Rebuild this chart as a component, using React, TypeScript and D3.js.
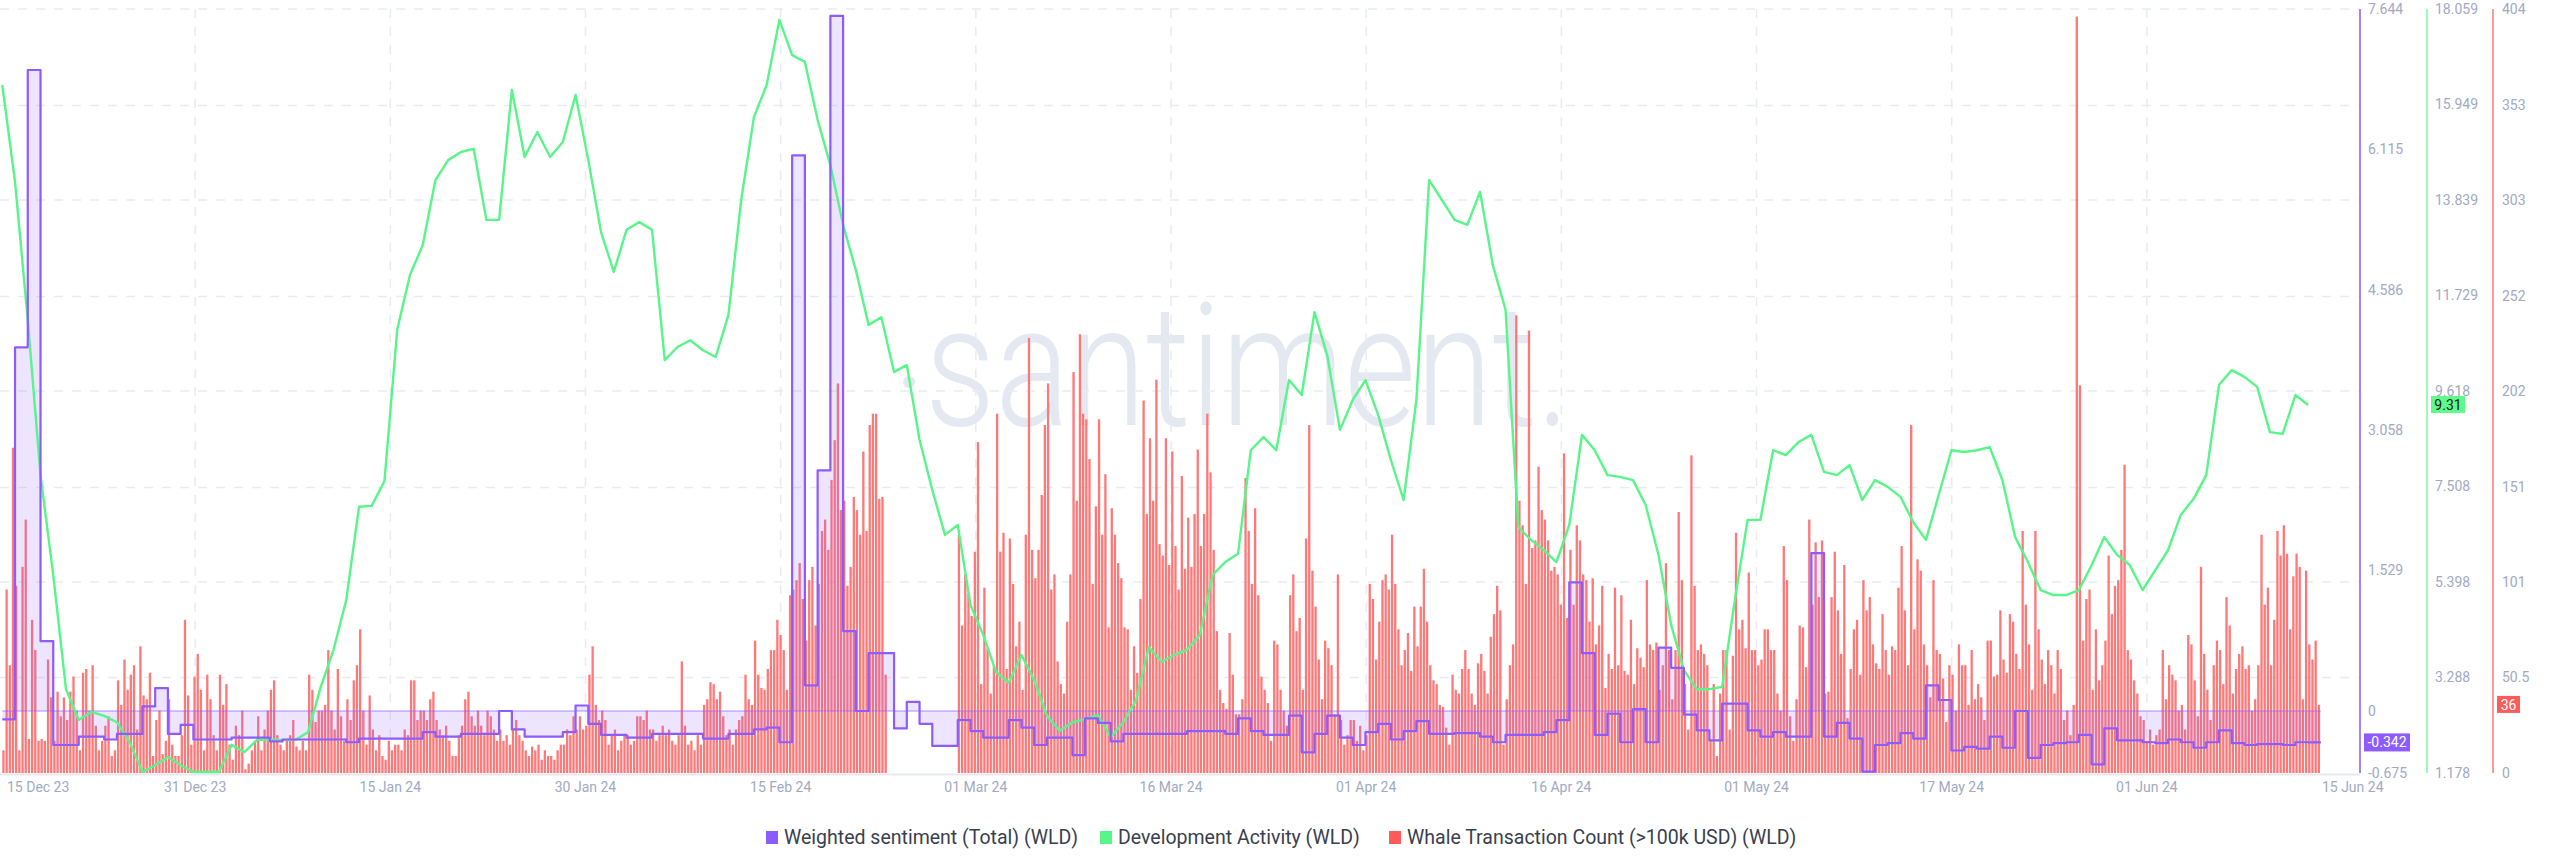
import * as d3 from 'd3'

// Daily weighted sentiment, 15 Dec 23 .. 13 Jun 24
const sentiment = [
  -0.09, 3.96, 6.98, 0.76, -0.37, -0.37, -0.28, -0.28, -0.31, -0.25,
  -0.25, 0.05, 0.25, -0.25, -0.15, -0.31, -0.31, -0.31, -0.29, -0.29,
  -0.29, -0.33, -0.31, -0.31, -0.31, -0.31, -0.31, -0.34, -0.3, -0.3,
  -0.3, -0.3, -0.3, -0.23, -0.28, -0.28, -0.25, -0.25, -0.25, 0,
  -0.2, -0.28, -0.28, -0.28, -0.23, 0.06, -0.14, -0.26, -0.26, -0.29,
  -0.29, -0.25, -0.25, -0.25, -0.25, -0.3, -0.3, -0.25, -0.25, -0.2,
  -0.18, -0.34, 6.05, 0.28, 2.62, 7.57, 0.87, 0, 0.63, 0.63,
  -0.19, 0.1, -0.14, -0.38, -0.38, -0.1, -0.22, -0.29, -0.29, -0.1,
  -0.18, -0.37, -0.29, -0.29, -0.48, -0.08, -0.13, -0.33, -0.25, -0.25,
  -0.25, -0.25, -0.25, -0.22, -0.22, -0.22, -0.25, -0.08, -0.22, -0.26,
  -0.26, -0.05, -0.45, -0.25, -0.05, -0.29, -0.37, -0.23, -0.14, -0.31,
  -0.22, -0.11, -0.25, -0.25, -0.24, -0.24, -0.28, -0.34, -0.26, -0.26,
  -0.26, -0.23, -0.1, 1.4, 0.63, -0.26, -0.03, -0.34, 0.02, -0.34,
  0.69, 0.47, -0.04, -0.21, -0.32, 0.08, 0.08, -0.21, -0.28, -0.23,
  -0.28, -0.28, 1.72, -0.28, -0.13, -0.3, -0.66, -0.37, -0.35, -0.24,
  -0.3, 0.28, 0.12, -0.43, -0.39, -0.41, -0.28, -0.4, 0, -0.51,
  -0.37, -0.35, -0.34, -0.26, -0.58, -0.19, -0.32, -0.32, -0.34, -0.35,
  -0.31, -0.34, -0.4, -0.34, -0.21, -0.35, -0.37, -0.36, -0.36, -0.37,
  -0.34, -0.342,
]

// Daily development activity
const devActivity = [
  16.38, 14.24, 11.19, 7.76, 5.55, 3.03, 2.35, 2.53, 2.44, 2.3,
  1.86, 1.2, 1.35, 1.53, 1.35, 1.2, 1.2, 1.2, 1.8, 1.64,
  1.91, 1.91, 1.91, 1.91, 2.08, 3.08, 3.9, 5.0, 7.06, 7.08,
  7.63, 10.97, 12.18, 12.84, 14.28, 14.72, 14.9, 14.97, 13.4, 13.4,
  16.27, 14.79, 15.34, 14.79, 15.12, 16.16, 14.72, 13.13, 12.25, 13.18,
  13.35, 13.18, 10.3, 10.59, 10.74, 10.52, 10.37, 11.3, 13.84, 15.67,
  16.38, 17.82, 17.04, 16.89, 15.61, 14.61, 13.29, 12.29, 11.08, 11.25,
  10.04, 10.19, 8.54, 7.43, 6.44, 6.66, 4.89, 4.23, 3.41, 3.17,
  3.79, 3.23, 2.44, 2.11, 2.3, 2.37, 2.46, 1.97, 2.3, 2.79,
  3.96, 3.63, 3.79, 3.9, 4.23, 5.55, 5.84, 6.02, 8.31, 8.6,
  8.31, 9.86, 9.53, 11.36, 10.41, 8.76, 9.42, 9.86, 9.09, 8.09,
  7.21, 9.42, 14.28, 13.84, 13.4, 13.29, 14.02, 12.4, 11.41, 6.61,
  6.33, 6.1, 5.84, 6.66, 8.65, 8.31, 7.76, 7.72, 7.65, 7.1,
  6.0, 4.45, 3.45, 3.03, 3.03, 3.08, 5.0, 6.77, 6.77, 8.31,
  8.2, 8.49, 8.65, 7.83, 7.76, 7.98, 7.21, 7.65, 7.5, 7.28,
  6.72, 6.33, 7.32, 8.31, 8.27, 8.31, 8.38, 7.65, 6.39, 5.84,
  5.22, 5.11, 5.11, 5.22, 5.77, 6.39, 6.0, 5.77, 5.22, 5.66,
  6.1, 6.88, 7.23, 7.76, 9.75, 10.08, 9.93, 9.71, 8.71, 8.67,
  9.53, 9.31,
]

// Whale transaction count, four 6h buckets per day
const whaleCounts = [
  12, 97, 57, 172, 99, 12, 109, 134, 18, 81, 65, 17, 18, 17, 60, 40, 17, 43, 30, 40,
  28, 43, 51, 33, 12, 53, 55, 33, 57, 25, 12, 17, 25, 30, 9, 12, 49, 36, 60, 44,
  52, 57, 23, 67, 41, 39, 53, 9, 28, 33, 10, 17, 39, 15, 9, 9, 20, 81, 41, 15,
  51, 63, 44, 12, 52, 39, 20, 12, 52, 36, 47, 15, 7, 25, 20, 33, 2, 5, 12, 17,
  30, 12, 23, 33, 44, 49, 20, 15, 12, 17, 20, 28, 14, 12, 17, 12, 52, 44, 27, 33,
  33, 36, 65, 33, 23, 55, 30, 17, 39, 28, 49, 57, 76, 33, 15, 41, 23, 12, 20, 9,
  7, 17, 12, 15, 15, 12, 23, 20, 49, 49, 28, 33, 33, 28, 39, 43, 28, 23, 20, 25,
  17, 9, 9, 20, 25, 39, 43, 30, 25, 33, 25, 20, 33, 30, 23, 17, 23, 17, 20, 15,
  23, 28, 20, 17, 12, 9, 14, 12, 15, 7, 12, 9, 9, 7, 12, 15, 15, 23, 20, 30,
  23, 30, 23, 25, 52, 67, 36, 28, 33, 28, 15, 20, 23, 12, 17, 20, 20, 15, 17, 30,
  30, 28, 33, 23, 23, 17, 20, 25, 20, 23, 17, 15, 20, 59, 25, 15, 17, 12, 20, 15,
  36, 39, 48, 47, 39, 43, 30, 20, 23, 15, 23, 28, 30, 52, 39, 36, 70, 52, 45, 44,
  55, 65, 65, 81, 73, 65, 44, 94, 97, 102, 111, 92, 70, 102, 109, 78, 100, 128, 134, 118,
  155, 176, 206, 139, 144, 99, 109, 146, 139, 126, 170, 128, 184, 190, 190, 145, 146, 52, 0, 0,
  0, 0, 0, 0, 0, 0, 0, 0, 0, 0, 0, 0, 0, 0, 0, 0, 0, 0, 0, 0,
  126, 78, 105, 95, 83, 117, 175, 47, 98, 66, 42, 57, 190, 117, 127, 55, 124, 100, 67, 80,
  44, 126, 230, 118, 103, 118, 147, 184, 206, 97, 105, 59, 47, 42, 80, 105, 212, 144, 232, 190,
  187, 166, 100, 141, 187, 126, 158, 77, 140, 126, 111, 103, 77, 76, 44, 67, 53, 92, 197, 137,
  177, 144, 208, 121, 115, 177, 110, 170, 120, 97, 157, 108, 135, 109, 137, 171, 120, 137, 190, 159,
  118, 75, 44, 37, 34, 74, 52, 31, 31, 39, 156, 128, 100, 140, 94, 51, 44, 37, 17, 70,
  68, 44, 33, 25, 94, 105, 75, 82, 44, 124, 184, 107, 88, 60, 39, 70, 66, 57, 31, 105,
  28, 15, 20, 28, 28, 17, 25, 12, 20, 100, 92, 60, 80, 102, 105, 97, 126, 100, 76, 57,
  65, 74, 54, 88, 67, 88, 108, 80, 57, 49, 47, 36, 35, 24, 15, 52, 44, 42, 55, 65,
  55, 42, 36, 58, 63, 54, 42, 72, 84, 99, 86, 15, 39, 57, 68, 242, 144, 131, 100, 234,
  119, 123, 162, 139, 134, 123, 107, 109, 105, 89, 169, 82, 118, 89, 131, 123, 105, 102, 80, 103,
  68, 78, 99, 45, 63, 55, 98, 57, 94, 54, 52, 81, 47, 66, 61, 56, 102, 68, 65, 69,
  44, 57, 111, 65, 39, 65, 138, 102, 47, 23, 168, 99, 65, 68, 63, 57, 17, 47, 9, 42,
  65, 65, 23, 62, 127, 76, 81, 66, 106, 65, 65, 57, 60, 76, 76, 65, 65, 42, 33, 120,
  102, 30, 17, 39, 78, 77, 56, 134, 89, 122, 93, 123, 42, 43, 93, 117, 86, 63, 110, 29,
  55, 76, 81, 52, 102, 86, 93, 68, 58, 55, 84, 65, 52, 67, 65, 98, 120, 86, 57, 184,
  76, 113, 107, 68, 57, 40, 102, 65, 63, 50, 27, 57, 52, 33, 68, 57, 57, 36, 65, 39,
  47, 40, 28, 70, 70, 51, 52, 86, 60, 53, 84, 80, 63, 55, 128, 89, 68, 44, 128, 76,
  60, 47, 65, 57, 42, 65, 55, 28, 33, 20, 36, 400, 205, 70, 92, 97, 44, 76, 49, 57,
  70, 115, 84, 99, 102, 118, 163, 65, 60, 49, 42, 30, 28, 17, 23, 15, 20, 23, 65, 39,
  57, 52, 49, 33, 36, 23, 73, 68, 49, 30, 109, 63, 44, 28, 57, 70, 65, 47, 93, 78,
  42, 55, 63, 67, 55, 57, 33, 39, 57, 126, 89, 98, 57, 81, 128, 115, 131, 116, 76, 104,
  116, 109, 39, 107, 68, 60, 70, 36,
]

const dateLabels = [
  '15 Dec 23', '31 Dec 23', '15 Jan 24', '30 Jan 24', '15 Feb 24', '01 Mar 24', '16 Mar 24',
  '01 Apr 24', '16 Apr 24', '01 May 24', '17 May 24', '01 Jun 24', '15 Jun 24',
]
const dateTickDays = [2.7, 15.14, 30.46, 45.78, 61.1, 76.42, 91.74, 107.06, 122.38, 137.7, 153.02, 168.34, 184.5]

const sentimentTicks = [-0.675, 0, 1.529, 3.058, 4.586, 6.115, 7.644]
const devTicks = [1.178, 3.288, 5.398, 7.508, 9.618, 11.729, 13.839, 15.949, 18.059]
const whaleTicks = [0, 50.5, 101, 151, 202, 252, 303, 353, 404]

const PURPLE = '#8c5cff'
const GREEN = '#58f589'
const RED = '#ff5b5b'
const AXIS_TEXT = '#a1a9c3'
const GRID = '#e8ebf3'
const FONT = 'Roboto, "Liberation Sans", sans-serif'

const W = 2560
const H = 867
const margin = { left: 0, right: 2360, top: 9, bottom: 773 }

export default function App() {
  const x = d3.scaleLinear().domain([-0.18, 185.07]).range([margin.left, margin.right])
  const yS = d3.scaleLinear().domain([-0.675, 7.644]).range([margin.bottom, margin.top])
  const yD = d3.scaleLinear().domain([1.178, 18.059]).range([margin.bottom, margin.top])
  const yW = d3.scaleLinear().domain([0, 404]).range([margin.bottom, margin.top])

  // step series needs a closing point for the last day
  const sentPts: [number, number][] = sentiment.map((v, i) => [i, v])
  sentPts.push([sentiment.length, sentiment[sentiment.length - 1]])

  const sentLine = d3.line<[number, number]>()
    .x(d => x(d[0]))
    .y(d => yS(d[1]))
    .curve(d3.curveStepAfter)
  const sentArea = d3.area<[number, number]>()
    .x(d => x(d[0]))
    .y0(yS(0))
    .y1(d => yS(d[1]))
    .curve(d3.curveStepAfter)

  const devLine = d3.line<number>()
    .x((_, i) => x(i))
    .y(d => yD(d))

  const barStep = x(0.25) - x(0)
  const barW = barStep * 0.72

  const lastS = sentiment[sentiment.length - 1]
  const lastD = devActivity[devActivity.length - 1]
  const lastW = whaleCounts[whaleCounts.length - 1]

  const legend = [
    { color: PURPLE, label: 'Weighted sentiment (Total) (WLD)', x: 766 },
    { color: GREEN, label: 'Development Activity (WLD)', x: 1100 },
    { color: RED, label: 'Whale Transaction Count (>100k USD) (WLD)', x: 1389 },
  ]

  return (
    <div style={{ position: 'absolute', left: 0, top: 0, width: W, height: H, background: '#fff' }}>
      <svg width={W} height={H} style={{ display: 'block', fontFamily: FONT }}>
        <rect width={W} height={H} fill="#fff" />

        {/* watermark */}
        <circle cx={909} cy={382} r={6} fill="#e4e8f1" />
        <text x={925} y={425} fontSize={170} fontWeight={300} fill="#e4e8f1"
          textLength={645} lengthAdjust="spacingAndGlyphs">santiment.</text>

        {/* grid */}
        {whaleTicks.slice(1).map(t => (
          <line key={'h' + t} x1={margin.left} x2={margin.right} y1={yW(t)} y2={yW(t)}
            stroke={GRID} strokeWidth={1.5} strokeDasharray="9 9" />
        ))}
        {dateTickDays.slice(1, -1).map(t => (
          <line key={'v' + t} x1={x(t)} x2={x(t)} y1={margin.top} y2={margin.bottom}
            stroke={GRID} strokeWidth={1.5} strokeDasharray="9 9" />
        ))}
        <line x1={margin.left} x2={margin.right} y1={margin.bottom + 1.5} y2={margin.bottom + 1.5}
          stroke="#e6e9f1" strokeWidth={2} />

        {/* whale bars */}
        <g fill="#ff7777">
          {whaleCounts.map((v, j) => v > 0 ? (
            <rect key={j} x={x(j / 4)} y={yW(v)} width={barW} height={yW(0) - yW(v)} />
          ) : null)}
        </g>

        {/* sentiment fill + zero line */}
        <path d={sentArea(sentPts) || ''} fill={PURPLE} fillOpacity={0.16} />
        <line x1={x(0)} x2={x(sentiment.length)} y1={yS(0)} y2={yS(0)}
          stroke={PURPLE} strokeOpacity={0.7} strokeWidth={1} />

        {/* dev activity */}
        <path d={devLine(devActivity) || ''} fill="none" stroke={GREEN} strokeWidth={2.4}
          strokeLinejoin="round" />

        {/* sentiment line */}
        <path d={sentLine(sentPts) || ''} fill="none" stroke={PURPLE} strokeWidth={2.2}
          strokeLinejoin="round" />

        {/* right axes */}
        <line x1={2360} x2={2360} y1={margin.top} y2={margin.bottom} stroke="#a383ff" strokeWidth={2} />
        <line x1={2427} x2={2427} y1={margin.top} y2={margin.bottom} stroke="#6dfb98" strokeWidth={1.4} />
        <line x1={2493} x2={2493} y1={margin.top} y2={margin.bottom} stroke="#ff7070" strokeWidth={1.4} />

        <g fontSize={14} fill={AXIS_TEXT}>
          {sentimentTicks.map(t => (
            <text key={'s' + t} x={2368} y={yS(t)} dy="0.35em">{t === 0 ? '0' : t.toFixed(3)}</text>
          ))}
          {devTicks.map(t => (
            <text key={'d' + t} x={2435} y={yD(t)} dy="0.35em">{t.toFixed(3)}</text>
          ))}
          {whaleTicks.map(t => (
            <text key={'w' + t} x={2502} y={yW(t)} dy="0.35em">{String(t)}</text>
          ))}
        </g>

        {/* last value badges */}
        <rect x={2364} y={yS(lastS) - 9} width={46} height={18} fill={PURPLE} />
        <text x={2387} y={yS(lastS)} dy="0.35em" textAnchor="middle" fontSize={14} fill="#fff">{lastS.toFixed(3)}</text>
        <rect x={2431} y={yD(lastD) - 9} width={34} height={17} fill="#5dfb8c" />
        <text x={2448} y={yD(lastD)} dy="0.35em" textAnchor="middle" fontSize={14} fill="#1a1a1a">{lastD.toFixed(2)}</text>
        <rect x={2497} y={yW(lastW) - 9} width={23} height={17} fill={RED} />
        <text x={2508.5} y={yW(lastW)} dy="0.35em" textAnchor="middle" fontSize={14} fill="#fff">{lastW}</text>

        {/* date axis */}
        <g fontSize={14} fill={AXIS_TEXT}>
          {dateLabels.map((l, i) => (
            <text key={l} x={i === 0 ? 7 : x(dateTickDays[i])} y={787} dy="0.35em"
              textAnchor={i === 0 ? 'start' : 'middle'}>{l}</text>
          ))}
        </g>

        {/* legend */}
        {legend.map(item => (
          <g key={item.label}>
            <rect x={item.x} y={831} width={12} height={13} fill={item.color} />
            <text x={item.x + 18} y={837} dy="0.35em" fontSize={19.5} fill="#3a3f4d">{item.label}</text>
          </g>
        ))}
      </svg>
    </div>
  )
}
